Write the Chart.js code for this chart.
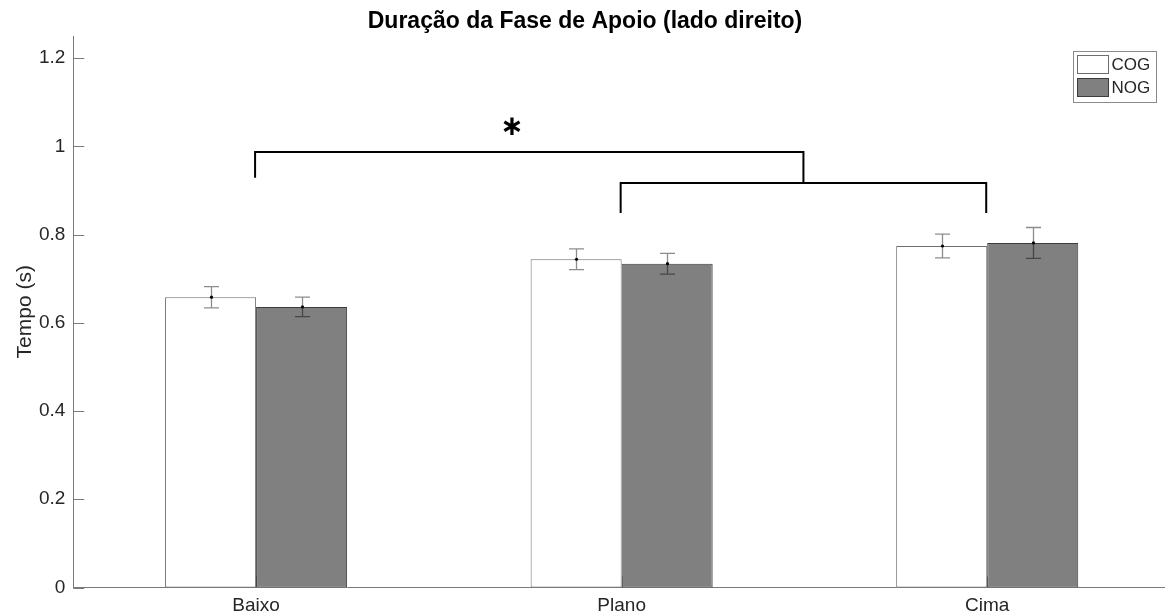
<!DOCTYPE html>
<html>
<head>
<meta charset="utf-8">
<script src="https://cdn.jsdelivr.net/npm/chart.js@4"></script>
<style>
  html, body { margin: 0; padding: 0; overflow: hidden; background: #fff; }
  canvas { display: block; }
</style>
</head>
<body>
<canvas id="chart" width="1170" height="616"></canvas>
<script>
// Stance-phase duration per slope condition, two groups (mean ± error)
const categories = ['Baixo', 'Plano', 'Cima'];
const seriesNames = ['COG', 'NOG'];
const cogMeans = [0.658, 0.744, 0.774];
const nogMeans = [0.636, 0.734, 0.781];
const cogErrors = [0.024, 0.0235, 0.027];
const nogErrors = [0.022, 0.0235, 0.035];
const yTickValues = [0, 0.2, 0.4, 0.6, 0.8, 1, 1.2];

// Significance brackets, in category / value units
const bracketFrom = [0, 1];
const bracketTo = [1.5, 2];
const bracketLevel = [0.987, 0.917];
const bracketLeftEnd = [0.929, 0.849];
const bracketRightEnd = [0.917, 0.849];
const starLabel = '∗';
const starAt = [0.70, 1.043];

const FONT = '"Liberation Sans", Arial, Helvetica, sans-serif';
const TEXT = '#262626';
const AXIS = '#7a7a7a';
const errorSets = [cogErrors, nogErrors];

const matlabAxes = {
  id: 'matlabAxes',
  beforeDatasetsDraw(chart) {
    const { ctx, chartArea: a, scales: { x, y } } = chart;
    ctx.save();
    ctx.strokeStyle = AXIS;
    ctx.lineWidth = 1;
    ctx.beginPath();
    for (const v of yTickValues) {
      const py = Math.round(y.getPixelForValue(v)) + 0.5;
      ctx.moveTo(a.left, py);
      ctx.lineTo(a.left + 11, py);
    }
    categories.forEach((c, i) => {
      const px = Math.round(x.getPixelForValue(i)) + 0.5;
      ctx.moveTo(px, a.bottom);
      ctx.lineTo(px, a.bottom - 11);
    });
    ctx.stroke();
    ctx.restore();
  },
  afterDatasetsDraw(chart) {
    const { ctx, scales: { x, y } } = chart;
    ctx.save();
    // error bars
    chart.data.datasets.forEach((ds, di) => {
      const meta = chart.getDatasetMeta(di);
      const errs = errorSets[di];
      meta.data.forEach((bar, j) => {
        const cx = Math.round(bar.x) + 0.5;
        const v = ds.data[j];
        const yt = y.getPixelForValue(v + errs[j]);
        const yb = y.getPixelForValue(v - errs[j]);
        ctx.strokeStyle = 'rgba(0,0,0,0.45)';
        ctx.lineWidth = 1.3;
        ctx.beginPath();
        ctx.moveTo(cx, yt); ctx.lineTo(cx, yb);
        ctx.moveTo(cx - 7.5, yt); ctx.lineTo(cx + 7.5, yt);
        ctx.moveTo(cx - 7.5, yb); ctx.lineTo(cx + 7.5, yb);
        ctx.stroke();
        ctx.fillStyle = '#000';
        ctx.beginPath();
        ctx.arc(cx, y.getPixelForValue(v), 1.6, 0, Math.PI * 2);
        ctx.fill();
      });
    });
    // significance brackets
    ctx.strokeStyle = '#000';
    ctx.lineWidth = 2;
    ctx.lineJoin = 'miter';
    for (let k = 0; k < bracketFrom.length; k++) {
      const x1 = x.getPixelForValue(bracketFrom[k]) - 1;
      const x2 = x.getPixelForValue(bracketTo[k]) - 1;
      const yl = y.getPixelForValue(bracketLevel[k]);
      ctx.beginPath();
      ctx.moveTo(x1, y.getPixelForValue(bracketLeftEnd[k]));
      ctx.lineTo(x1, yl);
      ctx.lineTo(x2, yl);
      ctx.lineTo(x2, y.getPixelForValue(bracketRightEnd[k]));
      ctx.stroke();
    }
    ctx.fillStyle = '#000';
    ctx.font = 'bold 28px "DejaVu Sans", sans-serif';
    ctx.textAlign = 'center';
    ctx.textBaseline = 'middle';
    ctx.fillText(starLabel, x.getPixelForValue(starAt[0]), y.getPixelForValue(starAt[1]));
    ctx.restore();
  },
  afterDraw(chart) {
    // boxed legend in the upper-right corner of the axes
    const { ctx, chartArea: a } = chart;
    const w = 83, h = 51;
    const bx = Math.round(a.right - 14 - w) + 0.5;
    const by = Math.round(a.top + 15) + 0.5;
    ctx.save();
    ctx.fillStyle = '#fff';
    ctx.fillRect(bx, by, w, h);
    ctx.strokeStyle = '#8a8a8a';
    ctx.lineWidth = 1;
    ctx.strokeRect(bx, by, w, h);
    ctx.font = '17px ' + FONT;
    ctx.textAlign = 'left';
    ctx.textBaseline = 'middle';
    chart.data.datasets.forEach((ds, i) => {
      const sy = by + 4 + i * 23;
      ctx.fillStyle = ds.backgroundColor;
      ctx.fillRect(bx + 4, sy, 31, 18);
      ctx.strokeStyle = ds.borderColor;
      ctx.strokeRect(bx + 4, sy, 31, 18);
      ctx.fillStyle = TEXT;
      ctx.fillText(ds.label, bx + 38, sy + 10);
    });
    ctx.restore();
  }
};

new Chart(document.getElementById('chart'), {
  type: 'bar',
  data: {
    labels: categories,
    datasets: [
      { label: seriesNames[0], data: cogMeans, backgroundColor: '#ffffff', borderColor: '#6e6e6e', borderWidth: 1, borderSkipped: false },
      { label: seriesNames[1], data: nogMeans, backgroundColor: '#808080', borderColor: '#3c3c3c', borderWidth: 1, borderSkipped: false }
    ]
  },
  options: {
    responsive: false,
    animation: false,
    events: [],
    categoryPercentage: 0.498,
    barPercentage: 1,
    layout: { padding: { left: 0, right: 0, top: 0, bottom: 0 } },
    plugins: {
      legend: { display: false },
      tooltip: { enabled: false },
      title: {
        display: true,
        text: 'Duração da Fase de Apoio (lado direito)',
        color: '#000',
        font: { family: FONT, size: 23, weight: 'bold' },
        padding: { top: 8.2, bottom: 0.2 }
      }
    },
    scales: {
      x: {
        grid: { display: false, drawTicks: false },
        border: { display: true, color: AXIS, width: 1 },
        ticks: { color: TEXT, font: { family: FONT, size: 19 }, padding: 6.5, maxRotation: 0 },
        afterFit(scale) { scale.height = 28.5; }
      },
      y: {
        min: 0,
        max: 1.25,
        grid: { display: false, drawTicks: false },
        border: { display: true, color: AXIS, width: 1 },
        afterBuildTicks(scale) { scale.ticks = yTickValues.map(v => ({ value: v })); },
        ticks: {
          color: TEXT,
          font: { family: FONT, size: 19 },
          padding: 8,
          callback: v => String(+v.toFixed(2))
        },
        title: {
          display: true,
          text: 'Tempo (s)',
          color: TEXT,
          font: { family: FONT, size: 21 },
          padding: { top: 12.5, bottom: 0 }
        },
        afterFit(scale) { scale.width = 73.3; }
      }
    }
  },
  plugins: [matlabAxes]
});
</script>
</body>
</html>
